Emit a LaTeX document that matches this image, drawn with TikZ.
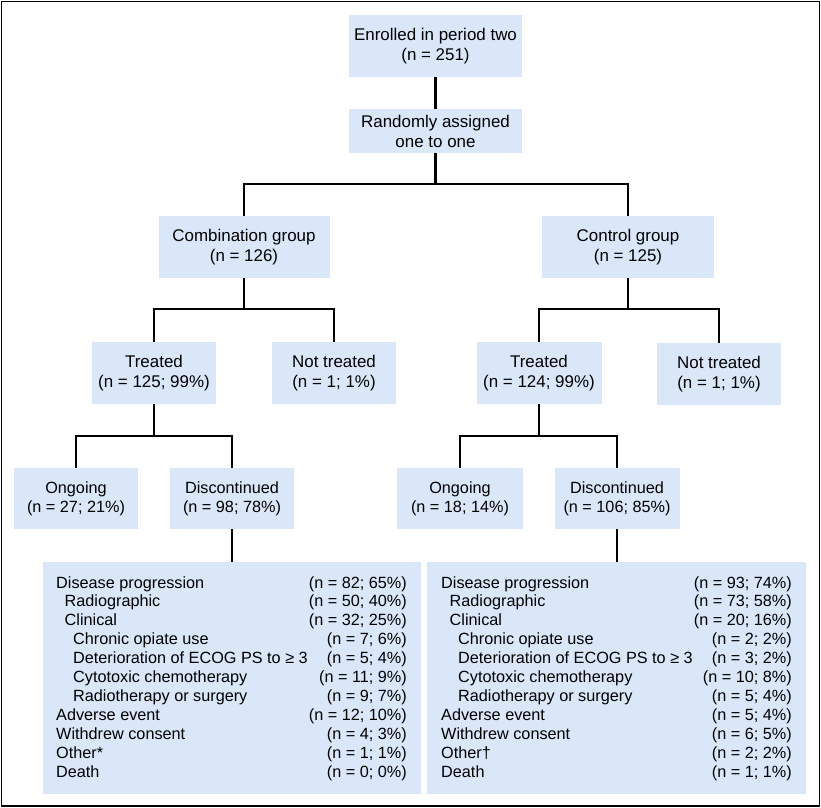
\documentclass[tikz,border=0pt]{standalone}
\usepackage{fontspec}
\setmainfont{Liberation Sans}
\definecolor{boxblue}{RGB}{218,231,249}
\begin{document}
\begin{tikzpicture}[x=1bp,y=-1bp,
  box/.style={fill=boxblue, inner sep=0pt, align=center, font=\fontsize{17}{20}\selectfont},
  sbox/.style={fill=boxblue, inner sep=0pt, align=center, font=\fontsize{16.3}{19}\selectfont},
  listtxt/.style={inner sep=0pt, font=\fontsize{16.3}{19}\selectfont},
  link/.style={line width=2.6bp, line join=miter}]
\useasboundingbox (0,0) rectangle (821,808);
\draw[line width=1.3bp] (1.5,1.5) rectangle (819.5,806);

% upper boxes
\node[box, minimum width=173bp, minimum height=62bp] (enr) at (435.5,46) {Enrolled in period two\\(n = 251)};
\node[box, minimum width=173bp, minimum height=44bp] (rand) at (435.5,131) {Randomly assigned\\one to one};
\node[box, minimum width=171bp, minimum height=62bp] (comb) at (244,247) {Combination group\\(n = 126)};
\node[box, minimum width=172bp, minimum height=62bp] (ctrl) at (628,247) {Control group\\(n = 125)};
\node[box, minimum width=124bp, minimum height=62bp] (tl) at (154,373) {Treated\\(n = 125; 99\%)};
\node[box, minimum width=124bp, minimum height=62bp] (ntl) at (334,373) {Not treated\\(n = 1; 1\%)};
\node[box, minimum width=125bp, minimum height=62bp] (tr) at (539,373) {Treated\\(n = 124; 99\%)};
\node[box, minimum width=124bp, minimum height=62bp] (ntr) at (719,374) {Not treated\\(n = 1; 1\%)};

% lower small boxes
\node[sbox, minimum width=124bp, minimum height=61bp] (ongl) at (76,498.5) {Ongoing\\(n = 27; 21\%)};
\node[sbox, minimum width=124bp, minimum height=61bp] (discl) at (232,498.5) {Discontinued\\(n = 98; 78\%)};
\node[sbox, minimum width=126bp, minimum height=61bp] (ongr) at (460,498.5) {Ongoing\\(n = 18; 14\%)};
\node[sbox, minimum width=125bp, minimum height=61bp] (discr) at (617,498.5) {Discontinued\\(n = 106; 85\%)};

% big list boxes
\node[fill=boxblue, inner sep=0pt, minimum width=378bp, minimum height=232bp] (bigl) at (232,678) {};
\node[fill=boxblue, inner sep=0pt, minimum width=379bp, minimum height=232bp] (bigr) at (616.5,678) {};

\foreach [count=\k] \lv/\lab/\num in {
  {0/Disease progression/(n = 82; 65\%)},
  {1/Radiographic/(n = 50; 40\%)},
  {1/Clinical/(n = 32; 25\%)},
  {2/Chronic opiate use/(n = 7; 6\%)},
  {2/Deterioration of ECOG PS to ≥ 3/(n = 5; 4\%)},
  {2/Cytotoxic chemotherapy/(n = 11; 9\%)},
  {2/Radiotherapy or surgery/(n = 9; 7\%)},
  {0/Adverse event/(n = 12; 10\%)},
  {0/Withdrew consent/(n = 4; 3\%)},
  {0/Other*/(n = 1; 1\%)},
  {0/Death/(n = 0; 0\%)}} {
  \node[listtxt, anchor=base west] (la\k) at (56+8.5*\lv, 588+18.9*\k-18.9) {\lab};
  \node[listtxt, anchor=base east] (lb\k) at (407, 588+18.9*\k-18.9) {\num};
}

\foreach [count=\k] \lv/\lab/\num in {
  {0/Disease progression/(n = 93; 74\%)},
  {1/Radiographic/(n = 73; 58\%)},
  {1/Clinical/(n = 20; 16\%)},
  {2/Chronic opiate use/(n = 2; 2\%)},
  {2/Deterioration of ECOG PS to ≥ 3/(n = 3; 2\%)},
  {2/Cytotoxic chemotherapy/(n = 10; 8\%)},
  {2/Radiotherapy or surgery/(n = 5; 4\%)},
  {0/Adverse event/(n = 5; 4\%)},
  {0/Withdrew consent/(n = 6; 5\%)},
  {0/Other†/(n = 2; 2\%)},
  {0/Death/(n = 1; 1\%)}} {
  \node[listtxt, anchor=base west] (ra\k) at (441+8.5*\lv, 588+18.9*\k-18.9) {\lab};
  \node[listtxt, anchor=base east] (rb\k) at (792, 588+18.9*\k-18.9) {\num};
}

% connectors
\coordinate (s1) at (435.5,184);
\coordinate (s2) at (244,309);
\coordinate (s3) at (628,309);
\coordinate (s4) at (154,436);
\coordinate (s5) at (539,436);
\draw[link] (enr) -- (rand);
\draw[link] (rand) -- (s1);
\draw[link] (comb.north) |- (s1) -| (ctrl.north);
\draw[link] (comb) -- (s2);
\draw[link] (tl.north) |- (s2) -| (ntl.north);
\draw[link] (ctrl) -- (s3);
\draw[link] (tr.north) |- (s3) -| (ntr.north);
\draw[link] (tl) -- (s4);
\draw[link] (ongl.north) |- (s4) -| (discl.north);
\draw[link] (tr) -- (s5);
\draw[link] (ongr.north) |- (s5) -| (discr.north);
\draw[link] (discl) -- (discl |- bigl.north);
\draw[link] (discr) -- (discr |- bigr.north);
\end{tikzpicture}
\end{document}
